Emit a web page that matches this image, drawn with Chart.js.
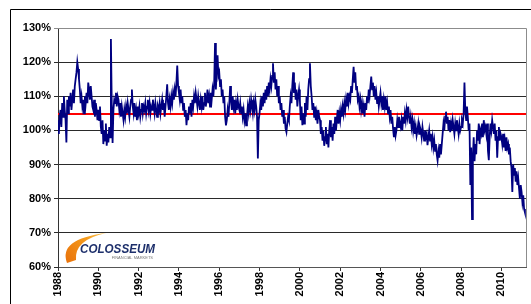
<!DOCTYPE html>
<html>
<head>
<meta charset="utf-8">
<script src="https://cdn.jsdelivr.net/npm/chart.js@4.4.1/dist/chart.umd.min.js"></script>
<style>
  body { margin: 0; background: #fff; }
  canvas { display: block; }
</style>
</head>
<body>
<canvas id="chart" width="531" height="304"></canvas>
<script>
// values, 24 per year (roughly twice a month), in %
const v1988 = [103, 99, 104, 106, 101, 108, 104, 110, 106, 103, 96.5, 109, 105, 110, 107, 111, 106, 109, 112, 108, 113, 115, 117, 120];
const v1989 = [118, 115, 112, 108, 110, 107, 109, 105, 110, 108, 111, 108, 114, 112, 109, 113, 110, 107, 106, 109, 104, 108, 106, 103];
const v1990 = [106, 103, 107, 101, 99, 103, 96, 100, 97, 102, 95.5, 99, 96.5, 101, 98, 126.8, 108, 96.3, 106, 109, 108, 111, 107, 110];
const v1991 = [109, 106, 108, 104, 107, 105, 103, 106, 104, 107, 105, 108, 106, 104, 107, 109, 112, 107, 105, 108, 104, 106, 103, 107];
const v1992 = [105, 107, 104, 106, 108, 105, 107, 106, 108, 105, 107, 109, 106, 108, 105, 107, 106, 109, 107, 105, 108, 106, 104, 107];
const v1993 = [106, 108, 105, 107, 109, 106, 108, 104, 107, 110, 113.5, 108, 106, 109, 107, 110, 108, 111, 109, 112, 110, 114, 119, 113];
const v1994 = [111, 109, 112, 108, 110, 106, 108, 104, 106, 101.5, 105, 103, 107, 105, 108, 104, 109, 107, 110, 108, 111, 109, 107, 110];
const v1995 = [108, 106, 109, 107, 110, 106, 108, 111, 107, 109, 112, 108, 110, 107, 111, 109, 112, 110, 114, 125.6, 112, 118, 122, 116];
const v1996 = [117, 113, 115, 110, 112, 108, 110, 104, 101.5, 103, 106, 104, 108, 113, 109, 106, 110, 107, 109, 105, 108, 106, 109, 107];
const v1997 = [106, 108, 105, 107, 104, 106, 103, 105, 101.5, 104, 107, 105, 108, 106, 109, 107, 105, 108, 106, 109, 107, 104, 91.8, 103];
const v1998 = [105, 108, 106, 110, 107, 111, 108, 112, 109, 113, 110, 114, 112, 115, 113, 116, 119.7, 114, 117, 112, 115, 110, 113, 108];
const v1999 = [110, 106, 108, 104, 106, 102, 104, 100.5, 99.5, 102, 104, 103, 107, 110, 108, 113, 117, 111, 114, 109, 112, 107, 110, 112];
const v2000 = [109, 103, 107, 101.5, 105, 102, 108, 104, 110, 106, 112, 115, 119.7, 113, 110, 106, 108, 104, 107, 103, 105, 102, 106, 104];
const v2001 = [103, 99, 101, 97, 100, 95.5, 98, 101, 96, 99, 95, 100, 103, 98, 101, 97, 102, 99, 104, 100, 103, 106, 102, 105];
const v2002 = [103, 106, 104, 107, 105, 108, 106, 109, 107, 111, 108, 110, 109, 113, 111, 115, 118.6, 114, 117, 112, 113, 109, 110, 107];
const v2003 = [109, 106, 108, 105, 107, 104, 108, 106, 110, 108, 112, 110, 113, 115.8, 112, 114, 110, 113, 109, 111, 108, 110, 107, 109];
const v2004 = [111, 108, 110, 106, 109, 107, 110, 106, 108, 105, 107, 104, 106, 102, 104, 100.5, 98, 101, 98.5, 100, 103, 101, 104, 102];
const v2005 = [101, 103, 100, 104, 102, 105, 103, 106, 104, 107, 104, 102, 104, 101, 103, 100, 102, 99, 101, 98.5, 100, 102, 99, 101];
const v2006 = [100, 98, 101, 99, 97, 100, 98, 99, 95.7, 98, 100, 97, 99, 96, 98, 95, 97, 94, 96, 93, 91.2, 94, 92, 96];
const v2007 = [93, 96, 99, 102, 100, 104, 105.5, 102, 104, 100, 103, 99.5, 102, 100, 103, 101, 99, 102, 100, 103, 101, 99, 102, 100];
const v2008 = [101, 103, 102, 105, 114, 106, 103, 107, 104, 100, 102, 84, 95, 74, 92, 98, 91, 96, 93, 100, 97, 102, 96, 100];
const v2009 = [99, 102, 98, 103, 100, 101, 99, 102, 94, 91.3, 98, 102, 100, 103, 101, 99, 102, 97, 100, 92, 98, 101, 97, 99];
const v2010 = [98, 96, 99, 95, 97, 94, 98, 95, 96, 93, 95, 91, 89, 82, 90, 87, 89, 85, 88, 84, 86, 83, 80, 84];
const v2011 = [82, 79, 81, 77, 76];

const firstYear = 1988;
const yearly = [v1988, v1989, v1990, v1991, v1992, v1993, v1994, v1995, v1996, v1997, v1998, v1999,
  v2000, v2001, v2002, v2003, v2004, v2005, v2006, v2007, v2008, v2009, v2010, v2011];
const benchmark = 104.8;
const yTicks = [60, 70, 80, 90, 100, 110, 120, 130];
const xTickYears = [1988, 1990, 1992, 1994, 1996, 1998, 2000, 2002, 2004, 2006, 2008, 2010];
const xMax = 2011.22;

// points: each year's values spread evenly over that year
const series = [];
yearly.forEach((vals, k) => {
  vals.forEach((v, i) => series.push({ x: firstYear + k + i / 24, y: v }));
});

Chart.defaults.font.family = "'Liberation Sans', Arial, sans-serif";
Chart.defaults.font.size = 11;
Chart.defaults.font.weight = "bold";
Chart.defaults.color = "#000";

// outer frame, plot border and the logo
const decor = {
  id: "decor",
  beforeDatasetsDraw(chart) {
    const { ctx, chartArea: a } = chart;
    ctx.save();
    ctx.strokeStyle = "#8c8c8c";
    ctx.lineWidth = 1;
    ctx.beginPath();
    ctx.moveTo(a.left, a.top + 0.5);
    ctx.lineTo(a.right + 0.5, a.top + 0.5);
    ctx.lineTo(a.right + 0.5, a.bottom);
    ctx.stroke();
    ctx.restore();
  },
  afterDraw(chart) {
    const ctx = chart.ctx;
    ctx.save();
    ctx.strokeStyle = "#000";
    ctx.lineWidth = 1;
    ctx.beginPath();
    ctx.moveTo(10.5, 304);
    ctx.lineTo(10.5, 9.5);
    ctx.lineTo(531, 9.5);
    ctx.stroke();

    // swoosh
    const g = ctx.createLinearGradient(64, 262, 106, 233);
    g.addColorStop(0, "#e8700a");
    g.addColorStop(0.6, "#f59a1c");
    g.addColorStop(1, "#fbc24a");
    ctx.fillStyle = g;
    ctx.beginPath();
    ctx.moveTo(67, 263);
    ctx.quadraticCurveTo(58, 239, 106, 233);
    ctx.quadraticCurveTo(74, 240, 76, 260);
    ctx.closePath();
    ctx.fill();

    ctx.fillStyle = "#1d2f6b";
    ctx.font = "italic bold 13px 'Liberation Sans', Arial";
    const w = ctx.measureText("COLOSSEUM").width;
    ctx.translate(80, 253);
    ctx.scale(75 / w, 1);
    ctx.fillText("COLOSSEUM", 0, 0);
    ctx.restore();

    ctx.save();
    ctx.fillStyle = "#777";
    ctx.font = "4px 'Liberation Sans', Arial";
    ctx.textAlign = "right";
    ctx.fillText("FINANCIAL MARKETS", 153, 259);
    ctx.restore();
  }
};

new Chart(document.getElementById("chart"), {
  type: "line",
  data: {
    datasets: [
      {
        data: series,
        borderColor: "#000080",
        borderWidth: 1.8,
        pointRadius: 0,
        tension: 0
      },
      {
        data: [{ x: firstYear, y: benchmark }, { x: xMax, y: benchmark }],
        borderColor: "#ff0000",
        borderWidth: 2,
        pointRadius: 0
      }
    ]
  },
  options: {
    responsive: false,
    animation: false,
    layout: { padding: { top: 28, right: 5, left: 0, bottom: 0 } },
    plugins: { legend: { display: false }, tooltip: { enabled: false } },
    scales: {
      x: {
        type: "linear",
        min: firstYear,
        max: xMax,
        afterFit(scale) { scale.height = 37; },
        afterBuildTicks(scale) {
          scale.ticks = xTickYears.map(v => ({ value: v }));
        },
        ticks: {
          callback: v => String(v),
          minRotation: 90,
          maxRotation: 90,
          padding: 1,
          autoSkip: false
        },
        grid: { drawOnChartArea: false, drawTicks: true, tickLength: 4, color: "#333" },
        border: { color: "#555" }
      },
      y: {
        min: 60,
        max: 130,
        afterFit(scale) { scale.width = 58; },
        afterBuildTicks(scale) {
          scale.ticks = yTicks.map(v => ({ value: v }));
        },
        ticks: { callback: v => v + "%", padding: 3 },
        grid: {
          tickLength: 4,
          color: ctx => (ctx.tick && ctx.tick.value === 130 ? "#8c8c8c" : "#2a2a2a")
        },
        border: { color: "#333" }
      }
    }
  },
  plugins: [decor]
});
</script>
</body>
</html>
